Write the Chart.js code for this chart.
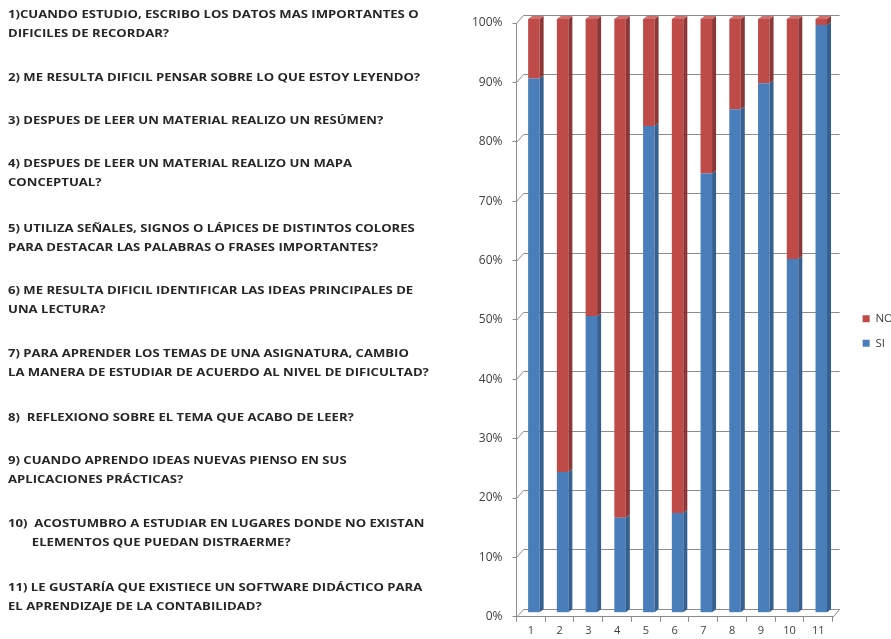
<!DOCTYPE html>
<html>
<head>
<meta charset="utf-8">
<script src="https://cdn.jsdelivr.net/npm/chart.js@4.4.1/dist/chart.umd.min.js"></script>
<style>
  body { margin: 0; width: 891px; height: 639px; overflow: hidden; background: #fff; position: relative; font-family: "Open Sans", sans-serif; }
  .preguntas { position: absolute; left: 8px; top: 0; transform-origin: 0 0; transform: scaleX(1.31); }
  .preguntas div { position: absolute; left: 0; white-space: nowrap; font-size: 10px; font-weight: 700; line-height: 18.5px; color: #262626; }
  #grafico { position: absolute; left: 450px; top: 0; }
</style>
</head>
<body>
<div class="preguntas">
  <div style="top:5px">1)CUANDO ESTUDIO, ESCRIBO LOS DATOS MAS IMPORTANTES O<br>DIFICILES DE RECORDAR?</div>
  <div style="top:68px">2) ME RESULTA DIFICIL PENSAR SOBRE LO QUE ESTOY LEYENDO?</div>
  <div style="top:111px">3) DESPUES DE LEER UN MATERIAL REALIZO UN RESÚMEN?</div>
  <div style="top:154px">4) DESPUES DE LEER UN MATERIAL REALIZO UN MAPA<br>CONCEPTUAL?</div>
  <div style="top:219px">5) UTILIZA SEÑALES, SIGNOS O LÁPICES DE DISTINTOS COLORES<br>PARA DESTACAR LAS PALABRAS O FRASES IMPORTANTES?</div>
  <div style="top:281px">6) ME RESULTA DIFICIL IDENTIFICAR LAS IDEAS PRINCIPALES DE<br>UNA LECTURA?</div>
  <div style="top:344px">7) PARA APRENDER LOS TEMAS DE UNA ASIGNATURA, CAMBIO<br>LA MANERA DE ESTUDIAR DE ACUERDO AL NIVEL DE DIFICULTAD?</div>
  <div style="top:408px">8)&nbsp; REFLEXIONO SOBRE EL TEMA QUE ACABO DE LEER?</div>
  <div style="top:451px">9) CUANDO APRENDO IDEAS NUEVAS PIENSO EN SUS<br>APLICACIONES PRÁCTICAS?</div>
  <div style="top:514px">10)&nbsp; ACOSTUMBRO A ESTUDIAR EN LUGARES DONDE NO EXISTAN<br>&nbsp;&nbsp;&nbsp;&nbsp;&nbsp;&nbsp;&nbsp;ELEMENTOS QUE PUEDAN DISTRAERME?</div>
  <div style="top:578px">11) LE GUSTARÍA QUE EXISTIECE UN SOFTWARE DIDÁCTICO PARA<br>EL APRENDIZAJE DE LA CONTABILIDAD?</div>
</div>
<canvas id="grafico" width="453" height="639"></canvas>
<script>
const categorias = ['1', '2', '3', '4', '5', '6', '7', '8', '9', '10', '11'];
const valoresSI = [90, 23.7, 50, 16, 82, 16.8, 74, 84.8, 89.2, 59.6, 99];
const valoresNO = [10, 76.3, 50, 84, 18, 83.2, 26, 15.2, 10.8, 40.4, 1];

const colorSI = '#4a7ebb';
const colorNO = '#be4b48';
const ladoSI = '#35608f';
const ladoNO = '#8c3735';
const techoNO = '#d06f6c';
const colorLinea = '#8c8c8c';

// fondo en perspectiva: pared trasera, piso y la cara lateral de cada barra
// las barras quedan a media profundidad, por eso se corren un poco arriba y a la derecha
const efecto3D = {
    id: 'efecto3D',
    beforeDatasetsDraw(chart) {
        const ctx = chart.ctx;
        const area = chart.chartArea;
        const y = chart.scales.y;
        const dx = 7, dy = -8;
        ctx.save();
        ctx.strokeStyle = colorLinea;
        ctx.lineWidth = 1;
        y.ticks.forEach(t => {
            const py = Math.round(y.getPixelForValue(t.value)) + 0.5;
            ctx.beginPath();
            ctx.moveTo(area.left, py);
            ctx.lineTo(area.left + dx, py + dy);
            ctx.lineTo(area.right + dx, py + dy);
            ctx.stroke();
        });
        const pb = Math.round(area.bottom) + 0.5;
        ctx.beginPath();
        ctx.moveTo(area.right, pb);
        ctx.lineTo(area.right + dx, pb + dy);
        ctx.stroke();
        ctx.restore();

        ctx.save();
        ctx.translate(3, -4);
    },
    afterDatasetsDraw(chart) {
        const ctx = chart.ctx;
        const bx = 4, by = -3;
        chart.data.datasets.forEach((ds, i) => {
            const meta = chart.getDatasetMeta(i);
            const lado = i === 0 ? ladoSI : ladoNO;
            meta.data.forEach(bar => {
                const r = bar.x + bar.width / 2;
                const l = bar.x - bar.width / 2;
                ctx.fillStyle = lado;
                ctx.beginPath();
                ctx.moveTo(r, bar.y);
                ctx.lineTo(r + bx, bar.y + by);
                ctx.lineTo(r + bx, bar.base + by);
                ctx.lineTo(r, bar.base);
                ctx.closePath();
                ctx.fill();
                if (i === chart.data.datasets.length - 1) {
                    ctx.fillStyle = techoNO;
                    ctx.beginPath();
                    ctx.moveTo(l, bar.y);
                    ctx.lineTo(l + bx, bar.y + by);
                    ctx.lineTo(r + bx, bar.y + by);
                    ctx.lineTo(r, bar.y);
                    ctx.closePath();
                    ctx.fill();
                }
            });
        });
        ctx.restore();
    }
};

const grafico = document.getElementById('grafico');

new Chart(grafico, {
    type: 'bar',
    data: {
        labels: categorias,
        datasets: [{
            label: 'SI',
            data: valoresSI,
            backgroundColor: colorSI,
            categoryPercentage: 0.8,
            barPercentage: 0.5
        }, {
            label: 'NO',
            data: valoresNO,
            backgroundColor: colorNO,
            categoryPercentage: 0.8,
            barPercentage: 0.5
        }]
    },
    options: {
        responsive: false,
        animation: false,
        layout: {
            padding: { top: 23, left: 12, right: 0, bottom: 0 }
        },
        plugins: {
            legend: {
                position: 'right',
                reverse: true,
                labels: {
                    boxWidth: 7,
                    boxHeight: 7,
                    padding: 13,
                    color: '#404040',
                    font: { family: 'Open Sans', size: 11.5 }
                }
            },
            tooltip: { enabled: false }
        },
        scales: {
            x: {
                stacked: true,
                grid: { offset: true, drawOnChartArea: false, tickLength: 5, color: colorLinea },
                border: { color: colorLinea },
                ticks: { color: '#404040', padding: 2, font: { family: 'Open Sans', size: 11 } }
            },
            y: {
                stacked: true,
                min: 0,
                max: 100,
                grid: { drawOnChartArea: false, tickLength: 4, color: colorLinea },
                border: { color: colorLinea },
                ticks: {
                    stepSize: 10,
                    color: '#404040',
                    padding: 10,
                    font: { family: 'Open Sans', size: 12 },
                    callback: v => v + '%'
                }
            },
            y2: {
                position: 'right',
                grid: { display: false },
                border: { display: false },
                ticks: { display: false },
                afterFit(scale) { scale.width = 17; }
            }
        }
    },
    plugins: [efecto3D]
});
</script>
</body>
</html>
